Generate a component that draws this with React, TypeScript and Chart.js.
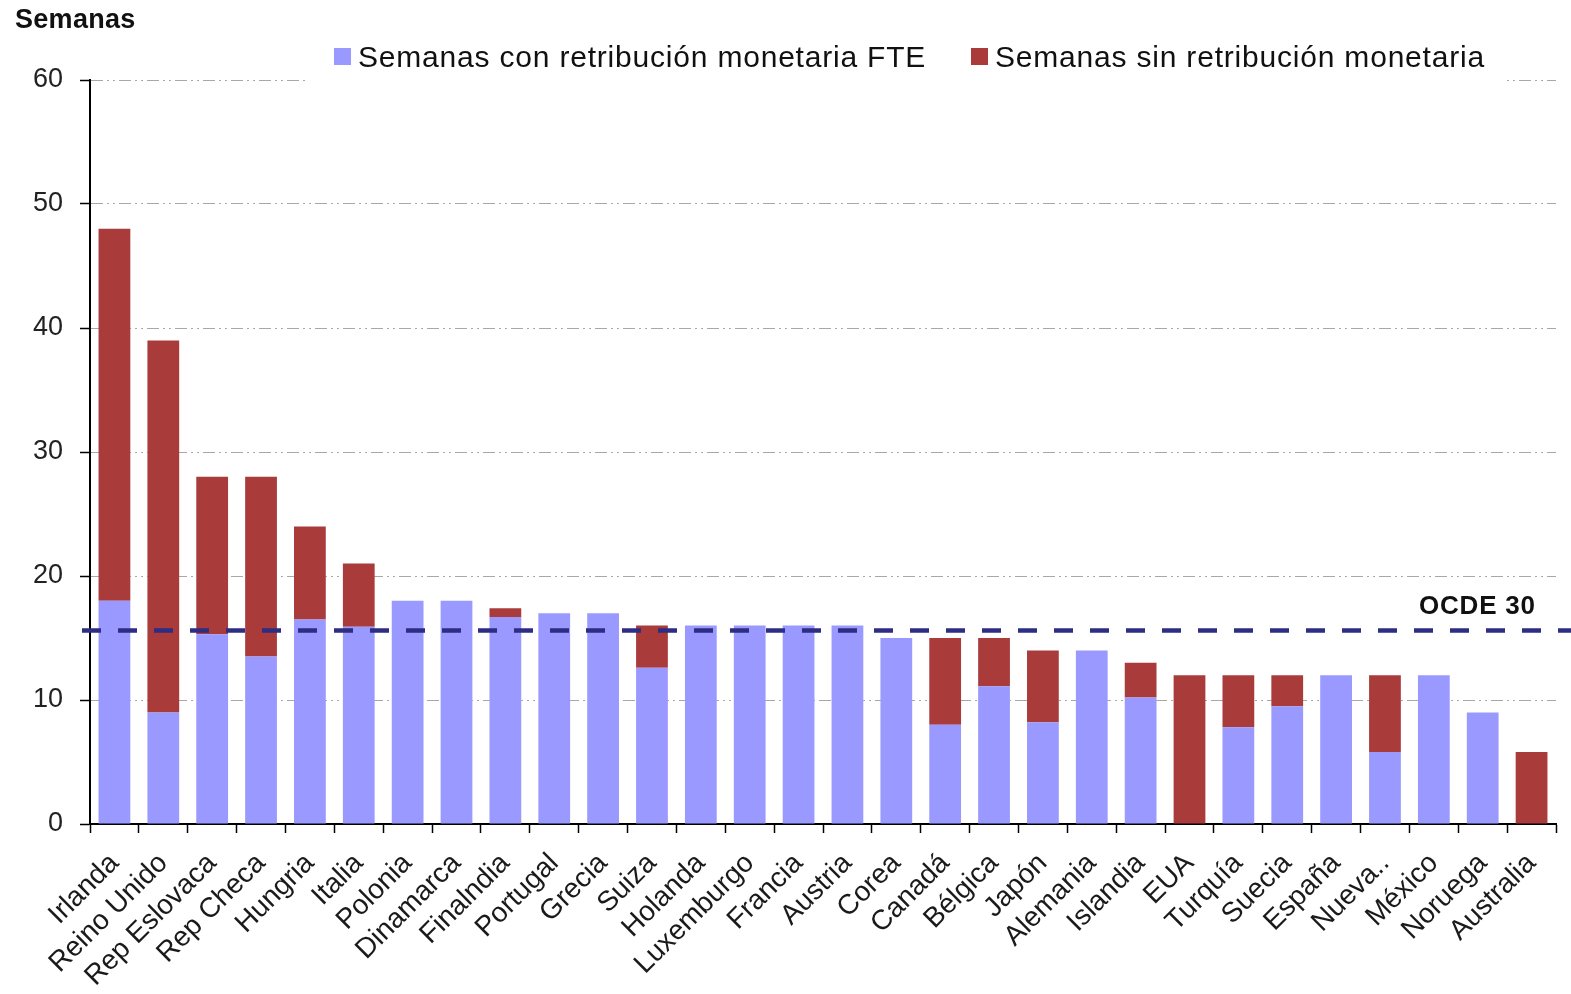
import React, { useEffect, useRef } from 'react';
import { Chart, registerables } from 'chart.js';

Chart.register(...registerables);

const categories = [
  'Irlanda', 'Reino Unido', 'Rep Eslovaca', 'Rep Checa', 'Hungria', 'Italia', 'Polonia',
  'Dinamarca', 'Finalndia', 'Portugal', 'Grecia', 'Suiza', 'Holanda', 'Luxemburgo',
  'Francia', 'Austria', 'Corea', 'Canadá', 'Bélgica', 'Japón', 'Alemania', 'Islandia',
  'EUA', 'Turquía', 'Suecia', 'España', 'Nueva..', 'México', 'Noruega', 'Australia',
];

const paidWeeks = [
  18, 9, 15.3, 13.5, 16.5, 15.9, 18, 18, 16.7, 17, 17, 12.6, 16, 16, 16, 16, 15, 8, 11.1,
  8.2, 14, 10.2, 0, 7.8, 9.5, 12, 5.8, 12, 9, 0,
];

const unpaidWeeks = [
  30, 30, 12.7, 14.5, 7.5, 5.1, 0, 0, 0.7, 0, 0, 3.4, 0, 0, 0, 0, 0, 7, 3.9,
  5.8, 0, 2.8, 12, 4.2, 2.5, 0, 6.2, 0, 0, 5.8,
];

const seriesNames = ['Semanas con retribución monetaria FTE', 'Semanas sin retribución monetaria'];
const seriesColors = ['#9999ff', '#a93b3b'];
const yMin = 0;
const yMax = 60;
const yStep = 10;
const oecdAverage = 15.6;
const oecdLabel = 'OCDE 30';
const yAxisTitle = 'Semanas';

const FONT = '"Liberation Sans", Arial, sans-serif';

const overlayPlugin = {
  id: 'overlay',
  afterDatasetsDraw(chart: any) {
    const { ctx, chartArea, scales } = chart;
    const py = scales.y.getPixelForValue(oecdAverage);
    ctx.save();
    ctx.strokeStyle = '#2d2d84';
    ctx.lineWidth = 4.5;
    ctx.setLineDash([19, 17]);
    ctx.beginPath();
    ctx.moveTo(chartArea.left - 8, py);
    ctx.lineTo(chart.width, py);
    ctx.stroke();
    ctx.setLineDash([]);
    ctx.fillStyle = '#111';
    ctx.font = `bold 26px ${FONT}`;
    (ctx as any).letterSpacing = '0.8px';
    ctx.textAlign = 'left';
    ctx.textBaseline = 'alphabetic';
    ctx.fillText(oecdLabel, 1419, py - 17);
    ctx.restore();
  },
  afterDraw(chart: any) {
    const { ctx } = chart;
    ctx.save();
    // legend background hiding the top gridline
    ctx.fillStyle = '#ffffff';
    ctx.fillRect(306, 36, 1200, 54);
    // axis title
    ctx.fillStyle = '#111';
    ctx.font = `bold 27px ${FONT}`;
    (ctx as any).letterSpacing = '0.3px';
    ctx.textAlign = 'left';
    ctx.textBaseline = 'alphabetic';
    ctx.fillText(yAxisTitle, 15, 28);
    // legend
    const legendX = [334, 971];
    ctx.font = `30px ${FONT}`;
    (ctx as any).letterSpacing = '0.8px';
    seriesNames.forEach((name, i) => {
      ctx.fillStyle = seriesColors[i];
      ctx.fillRect(legendX[i], 48, 17, 17);
      ctx.fillStyle = '#111';
      ctx.fillText(name, legendX[i] + 24, 67);
    });
    ctx.restore();
  },
};

export default function App() {
  const canvasRef = useRef<HTMLCanvasElement | null>(null);

  useEffect(() => {
    const canvas = canvasRef.current;
    if (!canvas) return;
    const chart = new Chart(canvas, {
      type: 'bar',
      data: {
        labels: categories,
        datasets: [
          {
            label: seriesNames[0],
            data: paidWeeks,
            backgroundColor: seriesColors[0],
            borderWidth: 0,
            barPercentage: 0.65,
            categoryPercentage: 1,
          },
          {
            label: seriesNames[1],
            data: unpaidWeeks,
            backgroundColor: seriesColors[1],
            borderWidth: 0,
            barPercentage: 0.65,
            categoryPercentage: 1,
          },
        ],
      },
      options: {
        responsive: false,
        animation: false,
        devicePixelRatio: 1,
        layout: { padding: { top: 80, right: 15, left: 0, bottom: 0 } },
        plugins: {
          legend: { display: false },
          title: { display: false },
          tooltip: { enabled: false },
        },
        scales: {
          x: {
            stacked: true,
            afterFit: (s: any) => {
              s.height = 170;
            },
            grid: {
              offset: true,
              drawOnChartArea: false,
              tickLength: 9,
              tickColor: '#000',
              tickWidth: 1.5,
            },
            border: { color: '#000', width: 2 },
            ticks: {
              autoSkip: false,
              maxRotation: 45,
              minRotation: 45,
              color: '#1a1a1a',
              padding: 14,
              font: { family: FONT, size: 28 },
            },
          },
          y: {
            stacked: true,
            min: yMin,
            max: yMax,
            afterFit: (s: any) => {
              s.width = 90;
            },
            grid: {
              color: '#a8a8a8',
              lineWidth: 1,
              tickColor: '#000',
              tickLength: 10,
              tickWidth: 1.5,
              tickBorderDash: [],
            },
            border: { color: '#000', width: 2, dash: [12, 4, 2, 4, 2, 4] },
            ticks: {
              stepSize: yStep,
              color: '#222',
              padding: 17,
              font: { family: FONT, size: 27 },
            },
          },
        },
      },
      plugins: [overlayPlugin],
    });
    return () => chart.destroy();
  }, []);

  return (
    <div style={{ position: 'fixed', left: 0, top: 0, width: 1571, height: 994, background: '#fff' }}>
      <canvas ref={canvasRef} width={1571} height={994} style={{ display: 'block' }} />
    </div>
  );
}
